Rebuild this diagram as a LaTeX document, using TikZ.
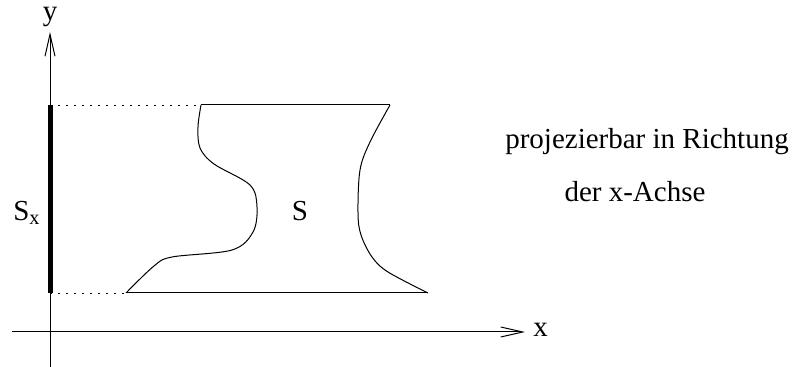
\documentclass[tikz,border=0pt]{standalone}
\usepackage{fontspec}
\setmainfont{Liberation Serif}
\usetikzlibrary{arrows.meta}

\begin{document}
\begin{tikzpicture}[x=0.5pt,y=-0.5pt,font=\fontsize{14.5}{17}\selectfont,axis/.style={-{Straight Barb[length=11pt,width=5pt]},line width=0.5pt},proj/.style={line width=0.4pt,dash pattern=on 1.2pt off 2.8pt},rim/.style={line width=0.5pt,line join=round},lbl/.style={inner sep=0pt}]
\useasboundingbox (0,0) rectangle (801,367);
\coordinate (ybot) at (50,367);\coordinate (ytop) at (50,32);
\coordinate (xleft) at (12,332);\coordinate (xright) at (525,332);
\coordinate (tl) at (201,105);\coordinate (tr) at (390,105);
\coordinate (bl) at (126,293);\coordinate (br) at (428,293);
\coordinate (sxtop) at (50,105);\coordinate (sxbot) at (50,293);
\draw[axis] (ybot)--(ytop);\draw[axis] (xleft)--(xright);
\node[lbl] (ylab) at (50,17) {y};
\node[lbl,anchor=west] (xlab) at (533,330) {x};
\draw[line width=2.5pt] (sxtop)--(sxbot);
\draw[proj] (sxtop)--(tl);\draw[proj] (sxbot)--(bl);
\draw[rim] (tl)--(tr);\draw[rim] (bl)--(br);
\draw[rim] plot[smooth,tension=0.55] coordinates {(201,105) (198,127) (200,148) (214,164) (250,185) (257,207) (253,232) (232,250) (172,257) (154,266) (126,293)};
\draw[rim] plot[smooth,tension=0.55] coordinates {(390,105) (370,142) (360,170) (358,213) (361,235) (372,257) (388,272) (428,293)};
\node[lbl] (S) at (300,211) {S};
\node[lbl] (Sx) at (27,213) {S\textsubscript{x}};
\node[lbl] (txt1) at (647,142) {projezierbar in Richtung};
\node[lbl] (txt2) at (635,192) {der x-Achse};
\end{tikzpicture}
\end{document}
